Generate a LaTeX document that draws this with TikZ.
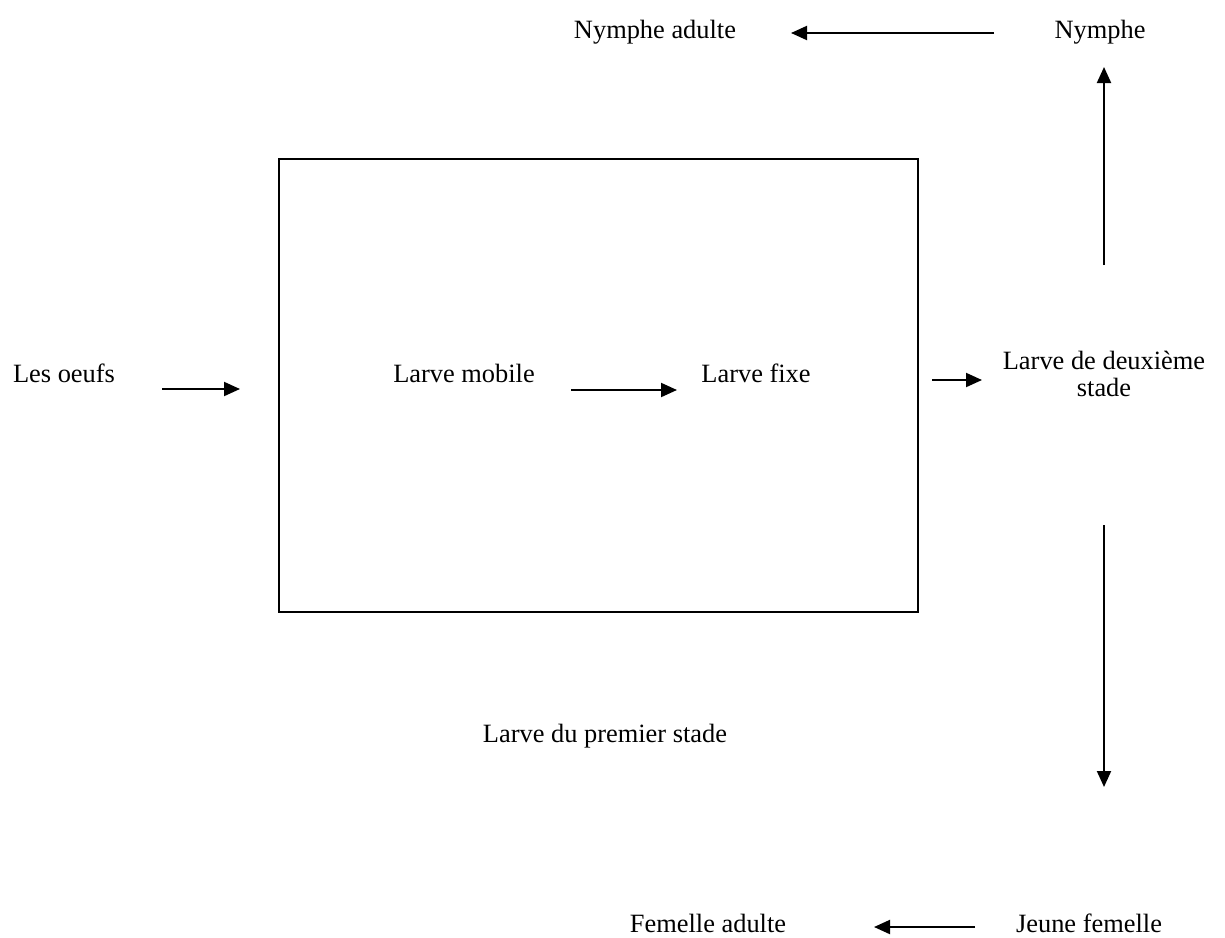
\documentclass[tikz,border=0pt]{standalone}
\usepackage{fontspec}
\setmainfont{Liberation Serif}
\usetikzlibrary{arrows.meta}

\tikzset{
  lbl/.style={inner sep=0pt, anchor=base, font=\fontsize{13.2}{13.5}\selectfont},
  arr/.style={line width=1pt, -{Triangle[length=8pt,width=7pt]}},
}

\begin{document}
\begin{tikzpicture}[x=0.5pt, y=-0.5pt]
\newcommand{\Colx}{1104}; % vertical axis on the right
\useasboundingbox (0,0) rectangle (1225,937);

% first stage larva box
\draw[line width=1pt] (279,159) rectangle (918,612);

% labels
\node[lbl] (NyA) at (655,38)  {Nymphe adulte};
\node[lbl] (Ny)  at (1100,38) {Nymphe};
\node[lbl] (Oe)  at (64,382)  {Les oeufs};
\node[lbl] (LM)  at (464,382) {Larve mobile};
\node[lbl] (LF)  at (756,382) {Larve fixe};
\node[lbl, align=center] (L2) at (\Colx,396) {Larve de deuxi\`eme\\stade};
\node[lbl] (L1)  at (605,742) {Larve du premier stade};
\node[lbl] (FA)  at (708,932) {Femelle adulte};
\node[lbl] (JF)  at (1089,932) {Jeune femelle};

% arrow ends
\coordinate (TopR) at (994,33);
\coordinate (TopL) at (791,33);
\coordinate (UpB)  at (\Colx,265);
\coordinate (UpT)  at (\Colx,67);
\coordinate (OeR)  at (162,389);
\coordinate (OeB)  at (240,389);
\coordinate (LMR)  at (571,390);
\coordinate (LFL)  at (677,390);
\coordinate (BxR)  at (932,380);
\coordinate (L2L)  at (982,380);
\coordinate (DnT)  at (\Colx,525);
\coordinate (DnB)  at (\Colx,787);
\coordinate (BotR) at (975,927);
\coordinate (BotL) at (874,927);

% arrows
\draw[arr] (TopR) -- (TopL);
\draw[arr] (UpB) -- (UpT);
\draw[arr] (OeR) -- (OeB);
\draw[arr] (LMR) -- (LFL);
\draw[arr] (BxR) -- (L2L);
\draw[arr] (DnT) -- (DnB);
\draw[arr] (BotR) -- (BotL);
\end{tikzpicture}
\end{document}
